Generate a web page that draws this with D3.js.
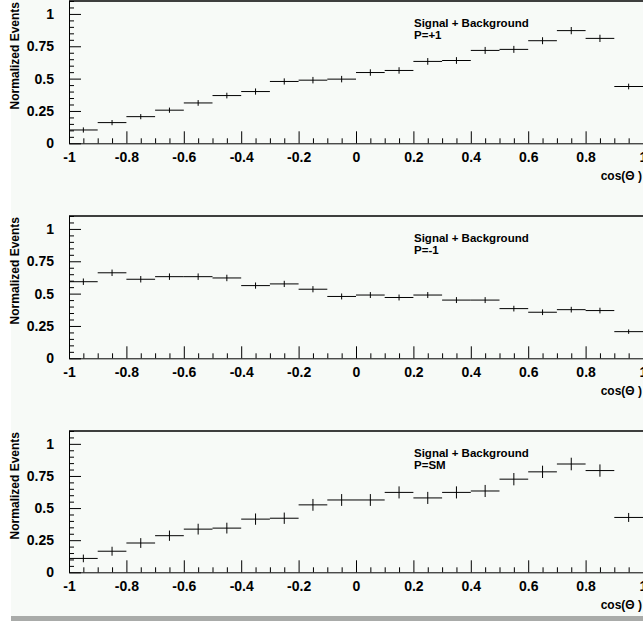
<!DOCTYPE html>
<html>
<head>
<meta charset="utf-8">
<script src="https://cdn.jsdelivr.net/npm/d3@7"></script>
<style>
  body { margin: 0; background: #fff; }
  text { font-family: "Liberation Sans", Arial, sans-serif; font-weight: bold; fill: #000; }
</style>
</head>
<body>
<script>
/* ------------------------------- Data ------------------------------- */
// bin edges of cos(theta), 20 bins of width 0.1
const binLow = [-1, -0.9, -0.8, -0.7, -0.6, -0.5, -0.4, -0.3, -0.2, -0.1,
                 0, 0.1, 0.2, 0.3, 0.4, 0.5, 0.6, 0.7, 0.8, 0.9];
const binWidth = 0.1;

const plusOne = [0.103, 0.160, 0.206, 0.256, 0.312, 0.369, 0.400, 0.478, 0.488, 0.496,
                 0.547, 0.563, 0.633, 0.640, 0.718, 0.726, 0.793, 0.871, 0.811, 0.439];
const plusOneErr = [0.02, 0.02, 0.02, 0.02, 0.022, 0.022, 0.024, 0.024, 0.025, 0.025,
                    0.025, 0.025, 0.026, 0.026, 0.027, 0.027, 0.027, 0.028, 0.028, 0.022];

const minusOne = [0.592, 0.661, 0.611, 0.631, 0.631, 0.621, 0.562, 0.575, 0.534, 0.478,
                  0.489, 0.470, 0.489, 0.450, 0.450, 0.384, 0.356, 0.376, 0.369, 0.206];
const minusOneErr = [0.025, 0.025, 0.025, 0.025, 0.025, 0.025, 0.024, 0.024, 0.024, 0.023,
                     0.023, 0.023, 0.023, 0.023, 0.023, 0.022, 0.022, 0.022, 0.022, 0.017];

const smValues = [0.108, 0.164, 0.228, 0.285, 0.336, 0.344, 0.414, 0.421, 0.525, 0.563,
                  0.563, 0.622, 0.579, 0.622, 0.633, 0.725, 0.782, 0.843, 0.792, 0.427];
const smErr = [0.03, 0.035, 0.038, 0.04, 0.042, 0.042, 0.044, 0.044, 0.046, 0.046,
               0.046, 0.047, 0.047, 0.047, 0.047, 0.048, 0.048, 0.049, 0.048, 0.035];

const xTicks = [-1, -0.8, -0.6, -0.4, -0.2, 0, 0.2, 0.4, 0.6, 0.8, 1];
const yTicks = [0, 0.25, 0.5, 0.75, 1];
const panelLabels = ["P=+1", "P=-1", "P=SM"];

/* ------------------------------ Layout ------------------------------ */
const width = 643, height = 621;
const plotLeft = 69, plotRight = 643;
const panelTops = [1, 216, 431];
const panelBottoms = [143.3, 358.3, 572.3];

const panels = [
  { values: plusOne, errs: plusOneErr, label: panelLabels[0] },
  { values: minusOne, errs: minusOneErr, label: panelLabels[1] },
  { values: smValues, errs: smErr, label: panelLabels[2] }
];

const svg = d3.select("body").append("svg")
  .attr("width", width)
  .attr("height", height);

// canvas background + bottom grey border
svg.append("rect").attr("x", 11).attr("y", 0)
  .attr("width", width - 11).attr("height", height)
  .attr("fill", "#f7faf7");
svg.append("rect").attr("x", 11).attr("y", 616)
  .attr("width", width - 11).attr("height", 5)
  .attr("fill", "#a9aba9");

const x = d3.scaleLinear().domain([-1, 1]).range([plotLeft, plotRight]);
const minorX = d3.range(-1, 1.0001, 0.05).map(d => Math.round(d * 100) / 100)
  .filter(d => !xTicks.some(t => Math.abs(t - d) < 1e-6));
const minorY = d3.range(0, 1.1001, 0.05).map(d => Math.round(d * 100) / 100)
  .filter(d => !yTicks.some(t => Math.abs(t - d) < 1e-6));

panels.forEach((p, i) => {
  const y = d3.scaleLinear().domain([0, 1.1]).range([panelBottoms[i], panelTops[i]]);
  const g = svg.append("g");

  // frame top
  g.append("line").attr("x1", plotLeft).attr("x2", plotRight)
    .attr("y1", panelTops[i]).attr("y2", panelTops[i])
    .attr("stroke", "#000").attr("stroke-width", 1.5);

  // x axis, ticks pointing up
  g.append("g").attr("transform", `translate(0,${panelBottoms[i]})`)
    .call(d3.axisBottom(x).tickValues(xTicks).tickSize(-12).tickSizeOuter(0)
      .tickPadding(9).tickFormat(d => String(d)));
  g.append("g").attr("transform", `translate(0,${panelBottoms[i]})`)
    .call(d3.axisBottom(x).tickValues(minorX).tickSize(-5).tickSizeOuter(0).tickFormat(""))
    .select(".domain").remove();

  // y axis, ticks pointing right
  g.append("g").attr("transform", `translate(${plotLeft},0)`)
    .call(d3.axisLeft(y).tickValues(yTicks).tickSize(-12).tickSizeOuter(0)
      .tickPadding(15).tickFormat(d => String(d)));
  g.append("g").attr("transform", `translate(${plotLeft},0)`)
    .call(d3.axisLeft(y).tickValues(minorY).tickSize(-5).tickSizeOuter(0).tickFormat(""))
    .select(".domain").remove();

  g.selectAll(".tick text")
    .attr("font-size", 14).attr("font-family", "Liberation Sans, Arial, sans-serif")
    .attr("font-weight", "bold").attr("fill", "#000");
  g.selectAll(".domain, .tick line").attr("stroke", "#000").attr("stroke-width", 1);

  // histogram bins with error bars
  const bins = g.append("g").selectAll("g")
    .data(binLow.map((lo, k) => ({ lo, v: p.values[k], e: p.errs[k] })))
    .join("g");
  bins.append("line")
    .attr("x1", d => x(d.lo)).attr("x2", d => x(d.lo + binWidth))
    .attr("y1", d => y(d.v)).attr("y2", d => y(d.v))
    .attr("stroke", "#000").attr("stroke-width", 1);
  bins.append("line")
    .attr("x1", d => x(d.lo + binWidth / 2)).attr("x2", d => x(d.lo + binWidth / 2))
    .attr("y1", d => y(d.v - d.e)).attr("y2", d => y(d.v + d.e))
    .attr("stroke", "#000").attr("stroke-width", 1);

  // axis titles
  g.append("text")
    .attr("transform", `translate(19,${panelTops[i] + 1}) rotate(-90)`)
    .attr("text-anchor", "end")
    .attr("font-size", 12)
    .text("Normalized Events");
  g.append("text")
    .attr("x", 642).attr("y", panelBottoms[i] + 37)
    .attr("text-anchor", "end")
    .attr("font-size", 12)
    .text("cos(Θ )");

  // legend text
  g.append("text").attr("x", 414).attr("y", panelTops[i] + 26)
    .attr("font-size", 11.5).text("Signal + Background");
  g.append("text").attr("x", 414).attr("y", panelTops[i] + 38)
    .attr("font-size", 11.5).text(p.label);
});
</script>
</body>
</html>
